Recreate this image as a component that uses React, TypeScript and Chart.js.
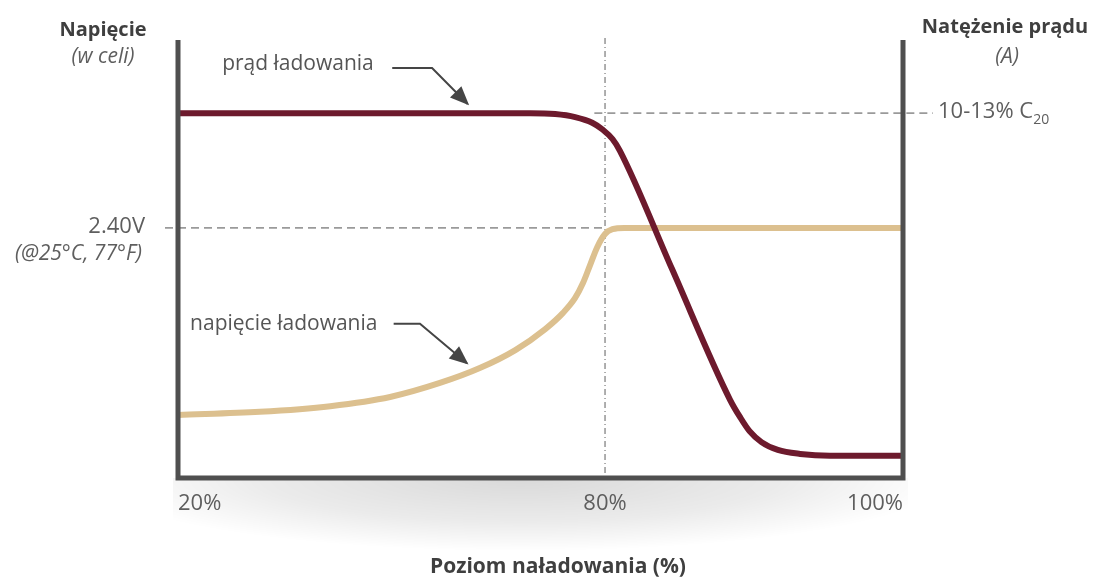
import React, { useEffect, useRef } from 'react';
import { Chart, registerables } from 'chart.js';

Chart.register(...registerables);

// Charge level (%) and relative level (0-100 of plot height) for each curve
const currentCharge = [20, 69.5, 73.0, 75.8, 78.2, 79.7, 80.5, 81.0, 84.5, 88.4, 89.1, 89.7, 90.5, 91.6, 93.1, 95.1, 100];
const currentLevel = [83.3, 83.3, 83.1, 82.4, 81.1, 79.5, 77.4, 74.7, 47.7, 17.8, 13.7, 10.7, 8.2, 6.4, 5.5, 5.1, 5.1];

const voltageCharge = [20, 31.5, 41.4, 49.8, 56.8, 62.4, 67.4, 71.6, 74.1, 75.8, 76.9, 77.9, 78.9, 80.0, 80.5, 81.3, 100];
const voltageLevel = [14.4, 15.1, 16.4, 18.5, 21.7, 25.1, 29.2, 34.0, 37.7, 41.1, 44.5, 48.6, 52.7, 55.7, 56.8, 57.1, 57.1];

const xTickValues = [20, 80, 100];
const xTickLabels = ['20%', '80%', '100%'];
// the schematic axis is not linear: 20→80% takes 58.9% of the width
const axisAnchorCharge = [20, 80, 100];
const axisAnchorPos = [0, 58.9, 100];

const voltageRefLevel = 57.1; // 2.40V
const currentRefLevel = 83.3; // 10-13% C20

const COLOR_CURRENT = '#6d1a2d';
const COLOR_VOLTAGE = '#dcc08f';
const AXIS_COLOR = '#4f4f4f';
const FONT = '"Open Sans", "Noto Sans", sans-serif';

function toPos(pct: number): number {
  for (let i = 0; i < axisAnchorCharge.length - 1; i++) {
    const a = axisAnchorCharge[i], b = axisAnchorCharge[i + 1];
    if (pct <= b || i === axisAnchorCharge.length - 2) {
      const t = (pct - a) / (b - a);
      return axisAnchorPos[i] + t * (axisAnchorPos[i + 1] - axisAnchorPos[i]);
    }
  }
  return 0;
}

const decorPlugin = {
  id: 'decor',
  beforeDatasetsDraw(chart: any) {
    const { ctx, chartArea, scales } = chart;
    const { left, right, top, bottom } = chartArea;
    const x = scales.x, yv = scales.yV, yc = scales.yC;

    // soft shadow under the base line
    ctx.save();
    ctx.beginPath();
    ctx.rect(left - 5, bottom, right - left + 10, 90);
    ctx.clip();
    ctx.translate((left + right) / 2 - 20, bottom);
    ctx.scale(1, 0.17);
    const g = ctx.createRadialGradient(0, 0, 0, 0, 0, 430);
    g.addColorStop(0, 'rgba(0,0,0,0.15)');
    g.addColorStop(0.6, 'rgba(0,0,0,0.08)');
    g.addColorStop(1, 'rgba(0,0,0,0)');
    ctx.fillStyle = g;
    ctx.fillRect(-430, 0, 860, 430);
    ctx.restore();

    ctx.save();
    // vertical dashed line at 80%
    const x80 = x.getPixelForValue(toPos(80));
    ctx.strokeStyle = '#7a7a7a';
    ctx.lineWidth = 1.2;
    ctx.setLineDash([6, 3, 1, 3]);
    ctx.beginPath();
    ctx.moveTo(x80, top - 2);
    ctx.lineTo(x80, bottom);
    ctx.stroke();

    // horizontal dashed lines
    ctx.strokeStyle = '#9a9a9a';
    ctx.lineWidth = 1.6;
    ctx.setLineDash([8, 5]);
    const yC = yc.getPixelForValue(currentRefLevel);
    ctx.beginPath();
    ctx.moveTo(x.getPixelForValue(toPos(78.5)), yC);
    ctx.lineTo(right + 30, yC);
    ctx.stroke();
    const yV = yv.getPixelForValue(voltageRefLevel);
    ctx.beginPath();
    ctx.moveTo(left - 13, yV);
    ctx.lineTo(x80 - 2, yV);
    ctx.stroke();
    ctx.restore();
  },
  afterDatasetsDraw(chart: any) {
    const { ctx, chartArea, scales } = chart;
    const { left, right, top, bottom } = chartArea;
    const x = scales.x, yv = scales.yV, yc = scales.yC;

    // axis frame
    ctx.save();
    ctx.strokeStyle = AXIS_COLOR;
    ctx.lineWidth = 5;
    ctx.lineCap = 'butt';
    ctx.beginPath();
    ctx.moveTo(left, top);
    ctx.lineTo(left, bottom + 2.5);
    ctx.moveTo(right, top);
    ctx.lineTo(right, bottom + 2.5);
    ctx.moveTo(left - 2.5, bottom);
    ctx.lineTo(right + 2.5, bottom);
    ctx.stroke();

    // x tick labels
    ctx.fillStyle = '#5e5e5e';
    ctx.font = `22px ${FONT}`;
    ctx.textBaseline = 'middle';
    xTickValues.forEach((v, i) => {
      const px = x.getPixelForValue(toPos(v));
      ctx.textAlign = i === 0 ? 'left' : i === xTickValues.length - 1 ? 'right' : 'center';
      ctx.fillText(xTickLabels[i], px, bottom + 26);
    });

    // axis titles
    ctx.fillStyle = '#3f3f3f';
    ctx.font = `bold 20px ${FONT}`;
    ctx.textAlign = 'center';
    ctx.fillText('Napięcie', 103, 30);
    ctx.fillText('Natężenie prądu', 1005, 27);
    ctx.font = `bold 21px ${FONT}`;
    ctx.fillText('Poziom naładowania (%)', 558, 567);
    ctx.fillStyle = '#5e5e5e';
    ctx.font = `italic 21px ${FONT}`;
    ctx.fillText('(w celi)', 103, 57);
    ctx.fillText('(A)', 1007, 57);

    // reference labels
    const yV = yv.getPixelForValue(voltageRefLevel);
    const yC = yc.getPixelForValue(currentRefLevel);
    ctx.font = `22px ${FONT}`;
    ctx.textAlign = 'right';
    ctx.fillText('2.40V', left - 33, yV - 1);
    ctx.font = `italic 21px ${FONT}`;
    ctx.fillText('(@25°C, 77°F)', left - 36, yV + 26);
    ctx.textAlign = 'left';
    ctx.font = `22px ${FONT}`;
    const t1 = '10-13% C';
    const cx = right + 35;
    ctx.fillText(t1, cx, yC - 1);
    const w1 = ctx.measureText(t1).width;
    ctx.font = `14px ${FONT}`;
    ctx.fillText('20', cx + w1, yC + 7);

    // curve labels
    ctx.font = `21px ${FONT}`;
    ctx.fillStyle = '#555555';
    ctx.fillText('prąd ładowania', x.getPixelForValue(toPos(26.2)), yc.getPixelForValue(94.5));
    ctx.fillText('napięcie ładowania', x.getPixelForValue(toPos(21.7)), yv.getPixelForValue(35.2));

    // arrows
    const drawArrow = (pts: number[][]) => {
      ctx.strokeStyle = '#454545';
      ctx.fillStyle = '#454545';
      ctx.lineWidth = 2;
      ctx.setLineDash([]);
      ctx.beginPath();
      ctx.moveTo(pts[0][0], pts[0][1]);
      for (let i = 1; i < pts.length; i++) ctx.lineTo(pts[i][0], pts[i][1]);
      ctx.stroke();
      const [ax, ay] = pts[pts.length - 2];
      const [bx, by] = pts[pts.length - 1];
      const ang = Math.atan2(by - ay, bx - ax);
      const L = 17, W = 8;
      ctx.beginPath();
      ctx.moveTo(bx + 2 * Math.cos(ang), by + 2 * Math.sin(ang));
      ctx.lineTo(bx - L * Math.cos(ang) + W * Math.sin(ang), by - L * Math.sin(ang) - W * Math.cos(ang));
      ctx.lineTo(bx - L * Math.cos(ang) - W * Math.sin(ang), by - L * Math.sin(ang) + W * Math.cos(ang));
      ctx.closePath();
      ctx.fill();
    };
    drawArrow([
      [x.getPixelForValue(toPos(50.1)), yc.getPixelForValue(93.6)],
      [x.getPixelForValue(toPos(55.7)), yc.getPixelForValue(93.6)],
      [x.getPixelForValue(toPos(60.7)), yc.getPixelForValue(85.4)],
    ]);
    drawArrow([
      [x.getPixelForValue(toPos(50.3)), yv.getPixelForValue(35.2)],
      [x.getPixelForValue(toPos(54.0)), yv.getPixelForValue(35.2)],
      [x.getPixelForValue(toPos(60.6)), yv.getPixelForValue(26.2)],
    ]);
    ctx.restore();
  },
};

export default function App() {
  const ref = useRef<HTMLCanvasElement | null>(null);
  useEffect(() => {
    document.body.style.margin = '0';
    document.body.style.background = '#ffffff';
    const canvas = ref.current!;
    const chart = new Chart(canvas, {
      type: 'line',
      data: {
        datasets: [
          {
            label: 'prąd ładowania',
            data: currentCharge.map((c, i) => ({ x: toPos(c), y: currentLevel[i] })),
            borderColor: COLOR_CURRENT,
            borderWidth: 6,
            pointRadius: 0,
            cubicInterpolationMode: 'monotone',
            yAxisID: 'yC',
            fill: false,
          },
          {
            label: 'napięcie ładowania',
            data: voltageCharge.map((c, i) => ({ x: toPos(c), y: voltageLevel[i] })),
            borderColor: COLOR_VOLTAGE,
            borderWidth: 6,
            pointRadius: 0,
            cubicInterpolationMode: 'monotone',
            yAxisID: 'yV',
            fill: false,
          },
        ],
      },
      options: {
        responsive: false,
        animation: false,
        events: [],
        layout: { padding: { left: 178, right: 196, top: 40, bottom: 105 } },
        scales: {
          x: { type: 'linear', min: 0, max: 100, display: false },
          yV: { type: 'linear', min: 0, max: 100, display: false, position: 'left' },
          yC: { type: 'linear', min: 0, max: 100, display: false, position: 'right' },
        },
        plugins: { legend: { display: false }, tooltip: { enabled: false } },
      },
      plugins: [decorPlugin],
    } as any);
    return () => chart.destroy();
  }, []);
  return <canvas ref={ref} width={1099} height={583} style={{ display: 'block' }} />;
}
